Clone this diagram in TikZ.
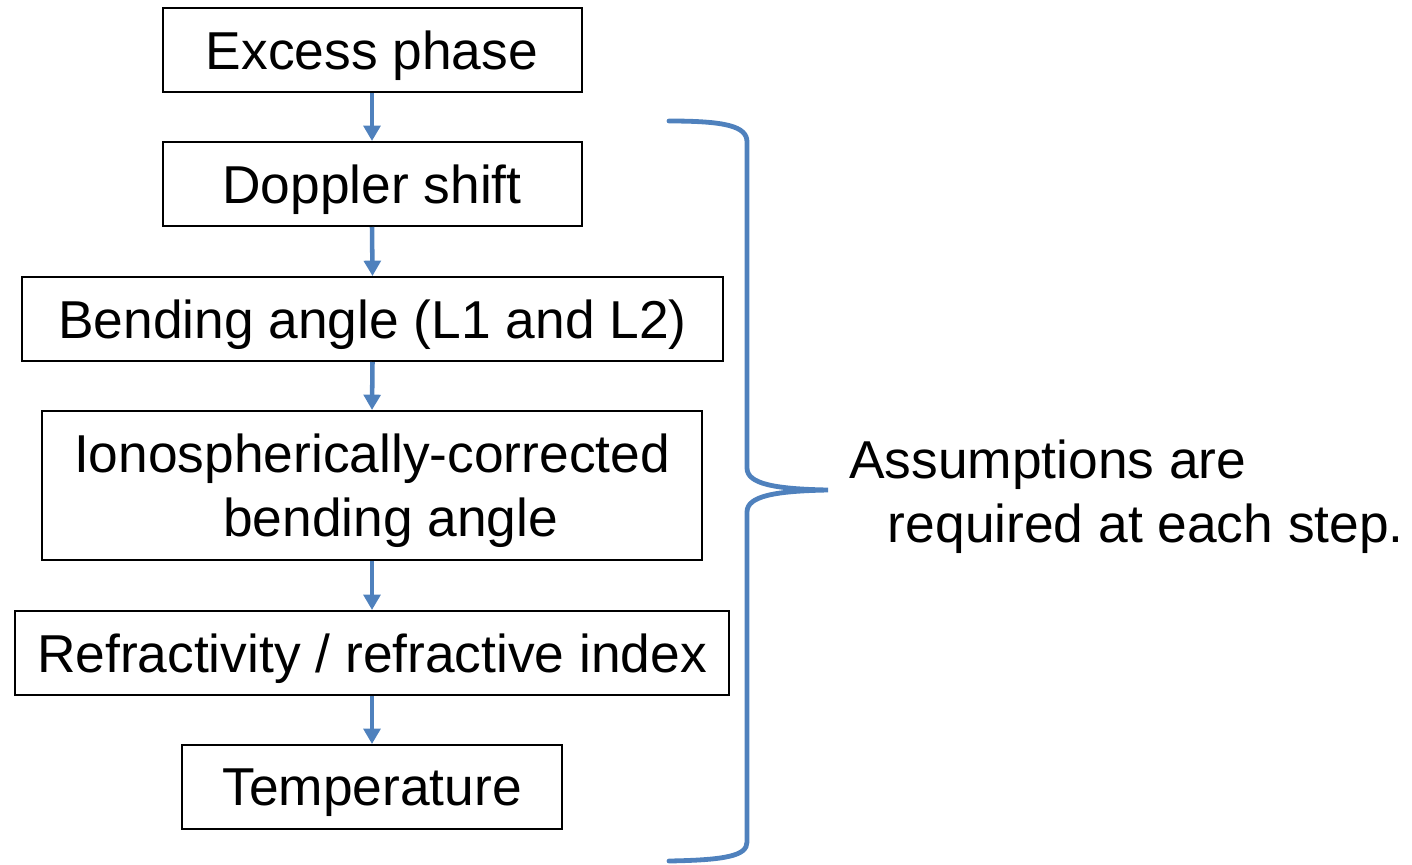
\documentclass[tikz,border=0pt]{standalone}
\usepackage{fontspec}
\setmainfont{Liberation Sans}
\usetikzlibrary{arrows.meta}
\definecolor{accent}{RGB}{79,129,189}
\begin{document}
\begin{tikzpicture}[x=0.75pt,y=-0.75pt,
  box/.style={draw=black,line width=1.5pt,inner sep=0pt,minimum height=63pt,align=center,
    text depth=0pt,font=\fontsize{40}{48}\selectfont},
  arr/.style={draw=accent,line width=3.4pt,-{Triangle[width=12.5pt,length=11.5pt]}},
  brace/.style={draw=accent,line width=3.6pt,line cap=round}]
\useasboundingbox (0,0) rectangle (1412,864);
\node[box,minimum width=314.25pt] (b1) at (372,50) {Excess phase};
\node[box,minimum width=314.25pt] (b2) at (372,184) {Doppler shift};
\node[box,minimum width=525.75pt] (b3) at (372.5,319) {Bending angle (L1 and L2)};
\node[box,minimum width=495pt,minimum height=111.75pt] (b4) at (372,485.5) {Ionospherically-corrected\\\hspace*{28pt}bending angle};
\node[box,minimum width=535.5pt] (b5) at (372,653) {Refractivity / refractive index};
\node[box,minimum width=285pt] (b6) at (372,787) {Temperature};
\draw[arr] (b1.south) -- (b2.north);
\draw[arr] (b2.south) -- (b3.north);
\draw[arr] (b3.south) -- (b4.north);
\draw[arr] (b4.south) -- (b5.north);
\draw[arr] (b5.south) -- (b6.north);
\draw[brace] (669,121) .. controls (725,121) and (747,126) .. (747,142) -- (747,468)
  .. controls (747,484) and (775,489) .. (828,490)
  .. controls (775,491) and (747,496) .. (747,512) -- (747,842)
  .. controls (747,856) and (725,860) .. (669,861);
\node[anchor=west,inner sep=0pt,align=left,font=\fontsize{40}{48}\selectfont] (note) at (849,497)
  {Assumptions are\\\hspace*{29pt}required at each step.};
\end{tikzpicture}
\end{document}
